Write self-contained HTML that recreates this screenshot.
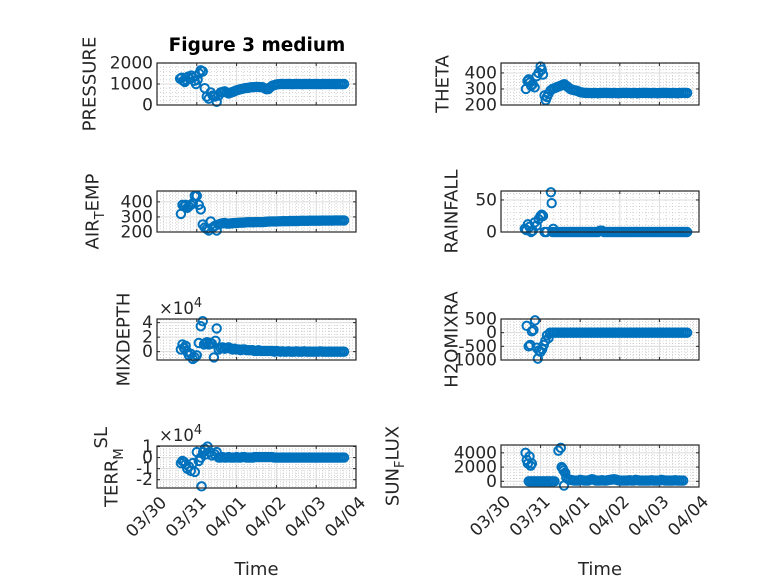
<!DOCTYPE html>
<html><head><meta charset="utf-8"><style>
html,body{margin:0;padding:0;background:#fff;}
svg{display:block;font-family:"DejaVu Sans","Liberation Sans",sans-serif;}
</style></head><body>
<svg id="fig" width="778" height="583" viewBox="0 0 778 583" xmlns="http://www.w3.org/2000/svg">
<rect x="0" y="0" width="778" height="583" fill="#ffffff"/>
<text x="257" y="51" text-anchor="middle" font-size="18.5" font-weight="bold" fill="#000">Figure 3 medium</text>
</svg>
<script>
// shared time axis (days since 03/30 00:00)
const xTickLabels = ["03/30","03/31","04/01","04/02","04/03","04/04"];
const denseT = [1.3,1.35,1.4,1.45,1.5,1.55,1.6,1.65,1.7,1.75,1.8,1.85,1.9,1.95,2.0,2.05,2.1,2.15,2.2,2.25,2.3,2.35,2.4,2.45,2.5,2.55,2.6,2.65,2.7,2.75,2.8,2.85,2.9,2.95,3.0,3.05,3.1,3.15,3.2,3.25,3.3,3.35,3.4,3.45,3.5,3.55,3.6,3.65,3.7,3.75,3.8,3.85,3.9,3.95,4.0,4.05,4.1,4.15,4.2,4.25,4.3,4.35,4.4,4.45,4.5,4.55,4.6,4.65,4.7];

const pressureT = [0.58,0.62,0.66,0.7,0.74,0.78,0.82,0.86,0.9,0.94,0.98,1.02,1.06,1.1,1.15,1.2,1.25,1.3,1.35,1.4,1.45,1.5,1.55];
const pressureV = [1250,1300,1150,1100,1200,1350,1250,1400,1300,1150,1000,1200,1500,1650,1600,800,400,300,600,450,400,150,450];
const pressureDense = [null,null,null,null,null,null,
 600,620,650,600,550,580,620,660,700,
 720,750,770,800,810,820,840,850,855,860,
 860,855,850,800,750,760,850,920,950,980,
 990,1000,1000,995,1000,1000,1000,990,1000,1000,
 1000,1000,990,1000,1000,1000,1000,995,1000,1000,
 1000,990,1000,1000,1000,1000,995,1000,1000,990,
 1000,1000,990,1000];

const thetaT = [0.63,0.67,0.7,0.73,0.76,0.8,0.85,0.9,0.95,1.0,1.03,1.06,1.1,1.13,1.16,1.2,1.25];
const thetaV = [300,350,360,340,320,330,310,380,400,440,420,390,260,230,250,270,290];
const thetaDense = [300,305,310,315,320,325,330,320,310,
 300,295,292,290,285,280,278,276,275,275,
 275,274,275,275,273,275,275,276,275,275,
 275,274,275,275,273,275,275,276,275,275,
 275,274,275,275,273,275,275,276,275,275,
 275,274,275,275,273,275,275,276,275,275,
 275,274,275,275,273,275,275,276,275,275];

const airT = [0.6,0.64,0.68,0.72,0.76,0.8,0.85,0.9,0.95,1.0,1.05,1.1,1.15,1.2,1.25,1.3,1.35,1.4,1.45,1.5,1.55];
const airV = [320,380,370,380,360,370,380,390,440,440,380,350,250,230,220,210,270,230,240,210,250];
const airDense = [null,null,null,null,null,null,
 255,258,260,256,255,257,258,259,260,
 261,262,262,263,264,265,265,264,265,266,
 266,265,266,267,268,269,270,270,270,270,
 271,271,272,272,272,272,273,273,273,273,
 273,274,274,274,274,274,275,275,275,275,
 275,275,276,276,276,276,276,276,277,277,
 277,277,277,277];

const rainT = [0.6,0.64,0.68,0.72,0.76,0.8,0.85,0.9,0.95,1.0,1.03,1.06,1.1,1.15,1.26,1.28,1.32];
const rainV = [5,3,12,8,0,2,15,10,20,25,27,25,0,0,62,45,5];
const rainDense = [0,0,0,0,0,0,0,0,0,
 0,0,0,0,0,0,0,0,0,0,
 0,0,0,0,0,2,2,0,0,0,
 0,0,0,0,0,0,0,0,0,0,
 0,0,0,0,0,0,0,0,0,0,
 0,0,0,0,0,0,0,0,0,0,
 0,0,0,0,0,0,0,0,0,0];

const mixT = [0.6,0.64,0.68,0.72,0.76,0.8,0.85,0.9,0.95,1.0,1.05,1.1,1.15,1.18,1.22,1.26,1.3,1.34,1.38,1.43,1.47,1.5,1.55];
const mixV = [0.3,1,0.5,0.8,0,-0.5,-0.3,-1,-0.8,-0.5,1.2,3.5,4.2,1,1.2,1.3,1,1.2,1.1,-0.8,1.5,3.2,0.3];
const mixDense = [null,null,null,null,null,null,
 0.5,0.6,0.4,0.5,0.6,0.4,0.3,0.4,0.3,
 0.3,0.2,0.3,0.3,0.2,0.2,0.2,0.2,0.1,0.1,
 0.2,0.1,0.1,0.1,0.1,0.1,0.1,0.1,0,0.1,
 0.05,0,0.05,0,0,0.05,0,0,0,0.05,
 0,0,0,0.05,0,0,0,0,0,0,
 0,0.05,0,0,0,0,0,0,0,0,
 0,0,0,0];

const h2oT = [0.65,0.7,0.74,0.78,0.82,0.86,0.9,0.93,0.96,1.0,1.04,1.08,1.12,1.16,1.2,1.24];
const h2oV = [250,-500,-450,50,100,450,-550,-950,-650,-700,-600,-450,-300,-100,-200,0];
const h2oDense = [0,0,0,0,0,0,0,0,0,
 0,0,0,0,0,0,0,0,0,0,
 0,0,0,0,0,0,0,0,0,0,
 0,0,0,0,0,0,0,0,0,0,
 0,0,0,0,0,0,0,0,0,0,
 0,0,0,0,0,0,0,0,0,0,
 0,0,0,0,0,0,0,0,0,0];

const terrT = [0.6,0.64,0.68,0.72,0.76,0.8,0.85,0.9,0.95,1.0,1.05,1.1,1.12,1.16,1.2,1.24,1.27,1.32,1.38,1.45,1.5,1.55];
const terrV = [-0.5,-0.3,-0.4,-0.6,-1,-0.8,-1.2,-0.5,-1.3,0.5,-0.3,0,-2.6,0.5,0.8,0.3,1,0.5,0.2,0.3,0.5,0];
const terrDense = [null,null,null,null,null,null,
 0,0.05,0,0,0.05,0,0,0,0.05,
 0,0,0.05,0.05,0,0,0,0,0.05,0.05,
 0.05,0.05,0.05,0.05,0.05,0.05,0.05,0.05,0,0,
 0,0,0,0,0,0,0,0,0,0,
 0,0,0,0,0,0,0,0,0,0,
 0,0,0,0,0,0,0,0,0,0,
 0,0,0,0];

const sunT = [0.62,0.65,0.68,0.72,0.75,0.78,0.7,0.75,0.8,0.85,0.9,0.95,1.0,1.05,1.1,1.15,1.2,1.25,1.3,1.35,1.45,1.51,1.53,1.56,1.58,1.59,1.62,1.65];
const sunV = [4000,3000,2500,3500,2200,2500,0,0,0,0,0,0,0,0,0,0,0,0,0,0,4300,4700,2000,1800,1500,-600,1200,500];
const sunDense = [null,null,null,null,null,null,null,null,
 300,200,150,100,100,100,200,150,100,100,
 100,200,300,200,100,100,100,150,100,100,
 150,200,250,300,250,150,100,100,100,100,
 100,150,100,100,200,150,100,100,100,100,
 100,100,150,100,100,100,100,200,150,100,
 100,100,100,100,150,100,100,100,100];

const pressureTicks = [0,1000,2000];
const thetaTicks = [200,300,400];
const airTicks = [200,300,400];
const rainTicks = [0,50];
const mixTicks = [0,2,4];
const h2oTicks = [-1000,-500,0,500];
const terrTicks = [-2,-1,0,1];
const sunTicks = [0,2000,4000];

const NS = "http://www.w3.org/2000/svg";
const svg = document.getElementById("fig");
function mk(tag, attrs, parent){
  const e = document.createElementNS(NS, tag);
  for (const k in attrs) e.setAttribute(k, attrs[k]);
  (parent||svg).appendChild(e);
  return e;
}

const panels = [
  {key:"pressure", label:"PRESSURE", x0:157, x1:356, y0:63, y1:105, ymin:0, ymax:2000, ticks:pressureTicks, t:pressureT, v:pressureV, d:pressureDense, lx:90, bottom:false},
  {key:"theta", label:"THETA", x0:501, x1:699, y0:63, y1:105, ymin:200, ymax:462, ticks:thetaTicks, t:thetaT, v:thetaV, d:thetaDense, lx:443, bottom:false},
  {key:"air-temp", label:"AIR<tspan baseline-shift='sub' font-size='13'>T</tspan>EMP", x0:157, x1:356, y0:191, y1:232, ymin:200, ymax:472, ticks:airTicks, t:airT, v:airV, d:airDense, lx:93, bottom:false},
  {key:"rainfall", label:"RAINFALL", x0:501, x1:699, y0:191, y1:232, ymin:0, ymax:64, ticks:rainTicks, t:rainT, v:rainV, d:rainDense, lx:452, bottom:false},
  {key:"mixdepth", label:"MIXDEPTH", x0:157, x1:356, y0:319, y1:360, ymin:-1.15, ymax:4.5, ticks:mixTicks, t:mixT, v:mixV, d:mixDense, lx:124, bottom:false, exp:true},
  {key:"h2omixra", label:"H2OMIXRA", x0:501, x1:699, y0:319, y1:360, ymin:-1000, ymax:500, ticks:h2oTicks, t:h2oT, v:h2oV, d:h2oDense, lx:452, bottom:false},
  {key:"terr-msl", label:"TERR<tspan baseline-shift='sub' font-size='13'>M</tspan><tspan baseline-shift='super'>SL</tspan>", x0:157, x1:356, y0:446, y1:488, ymin:-2.75, ymax:1.05, ticks:terrTicks, t:terrT, v:terrV, d:terrDense, lx:112, bottom:true, exp:true},
  {key:"sun-flux", label:"SUN<tspan baseline-shift='sub' font-size='13'>F</tspan>LUX", x0:501, x1:699, y0:445, y1:487, ymin:-800, ymax:5100, ticks:sunTicks, t:sunT, v:sunV, d:sunDense, lx:393, bottom:true}
];

panels.forEach(p => {
  const g = mk("g", {});
  
  
  const xs = t => p.x0 + (p.x1 - p.x0) * t / 5;
  const ys = v => p.y1 - (p.y1 - p.y0) * (v - p.ymin) / (p.ymax - p.ymin);
  mk("rect", {x:p.x0, y:p.y0, width:p.x1-p.x0, height:p.y1-p.y0, fill:"#fff"}, g);
  for (let i = 0; i < 30; i++) {
    if (i % 6 === 0) continue;
    const x = xs(i/6);
    mk("line", {x1:x, x2:x, y1:p.y0, y2:p.y1, stroke:"#c8c8c8", "stroke-width":0.8, "stroke-dasharray":"1,2"}, g);
  }
  const step = p.ticks[1] - p.ticks[0];
  for (let v = p.ticks[0] - step; v <= p.ymax; v += step/5) {
    if (v < p.ymin || v > p.ymax) continue;
    const y = ys(v);
    mk("line", {x1:p.x0, x2:p.x1, y1:y, y2:y, stroke:"#c8c8c8", "stroke-width":0.8, "stroke-dasharray":"1,2"}, g);
  }
  for (let i = 1; i < 5; i++) {
    const x = xs(i);
    mk("line", {x1:x, x2:x, y1:p.y0, y2:p.y1, stroke:"#dcdcdc", "stroke-width":1}, g);
  }
  p.ticks.forEach(v => {
    const y = ys(v);
    mk("line", {x1:p.x0, x2:p.x1, y1:y, y2:y, stroke:"#dcdcdc", "stroke-width":1}, g);
    mk("line", {x1:p.x0, x2:p.x0+3, y1:y, y2:y, stroke:"#262626", "stroke-width":1}, g);
    mk("line", {x1:p.x1, x2:p.x1-3, y1:y, y2:y, stroke:"#262626", "stroke-width":1}, g);
    const tl = mk("text", {x:p.x0-4, y:y+5.5, "text-anchor":"end", "font-size":17, fill:"#262626"}, g);
    
    
    tl.textContent = String(v);
  });
  for (let i = 1; i < 5; i++) {
    const x = xs(i);
    mk("line", {x1:x, x2:x, y1:p.y1, y2:p.y1-3, stroke:"#262626", "stroke-width":1}, g);
    mk("line", {x1:x, x2:x, y1:p.y0, y2:p.y0+3, stroke:"#262626", "stroke-width":1}, g);
  }
  const pts = mk("g", {fill:"none", stroke:"#0072BD", "stroke-width":2}, g);
  
  
  p.t.forEach((t, i) => {
    const c = mk("circle", {cx:xs(t), cy:ys(p.v[i]), r:4.2}, pts);
    
    
  });
  denseT.forEach((t, i) => {
    if (p.d[i] === null || p.d[i] === undefined) return;
    const c = mk("circle", {cx:xs(t), cy:ys(p.d[i]), r:4.2}, pts);
    
    
  });
  mk("rect", {x:p.x0, y:p.y0, width:p.x1-p.x0, height:p.y1-p.y0, fill:"none", stroke:"#262626", "stroke-width":1.2}, g);
  const cy = (p.y0 + p.y1) / 2;
  const yl = mk("text", {x:p.lx, y:cy, "text-anchor":"middle", "dominant-baseline":"central", "font-size":18, fill:"#262626", transform:"rotate(-90 "+p.lx+" "+cy+")"}, g);
  
  
  yl.innerHTML = p.label;
  if (p.exp) {
    const ex = mk("text", {x:p.x0+2, y:p.y0-5, "font-size":16.5, fill:"#262626"}, g);
    
    
    ex.innerHTML = "×10<tspan baseline-shift='super' font-size='13'>4</tspan>";
  }
  if (p.bottom) {
    xTickLabels.forEach((lab, i) => {
      const x = xs(i) + 7, y = p.y1 + 12;
      const xl = mk("text", {x:x, y:y, "text-anchor":"end", "dominant-baseline":"central", "font-size":17, fill:"#262626", transform:"rotate(-45 "+x+" "+y+")"}, g);
      
      
      xl.textContent = lab;
    });
    const xt = mk("text", {x:(p.x0+p.x1)/2, y:575, "text-anchor":"middle", "font-size":18, fill:"#262626"}, g);
    
    
    xt.textContent = "Time";
  }
});
</script>
</body></html>
